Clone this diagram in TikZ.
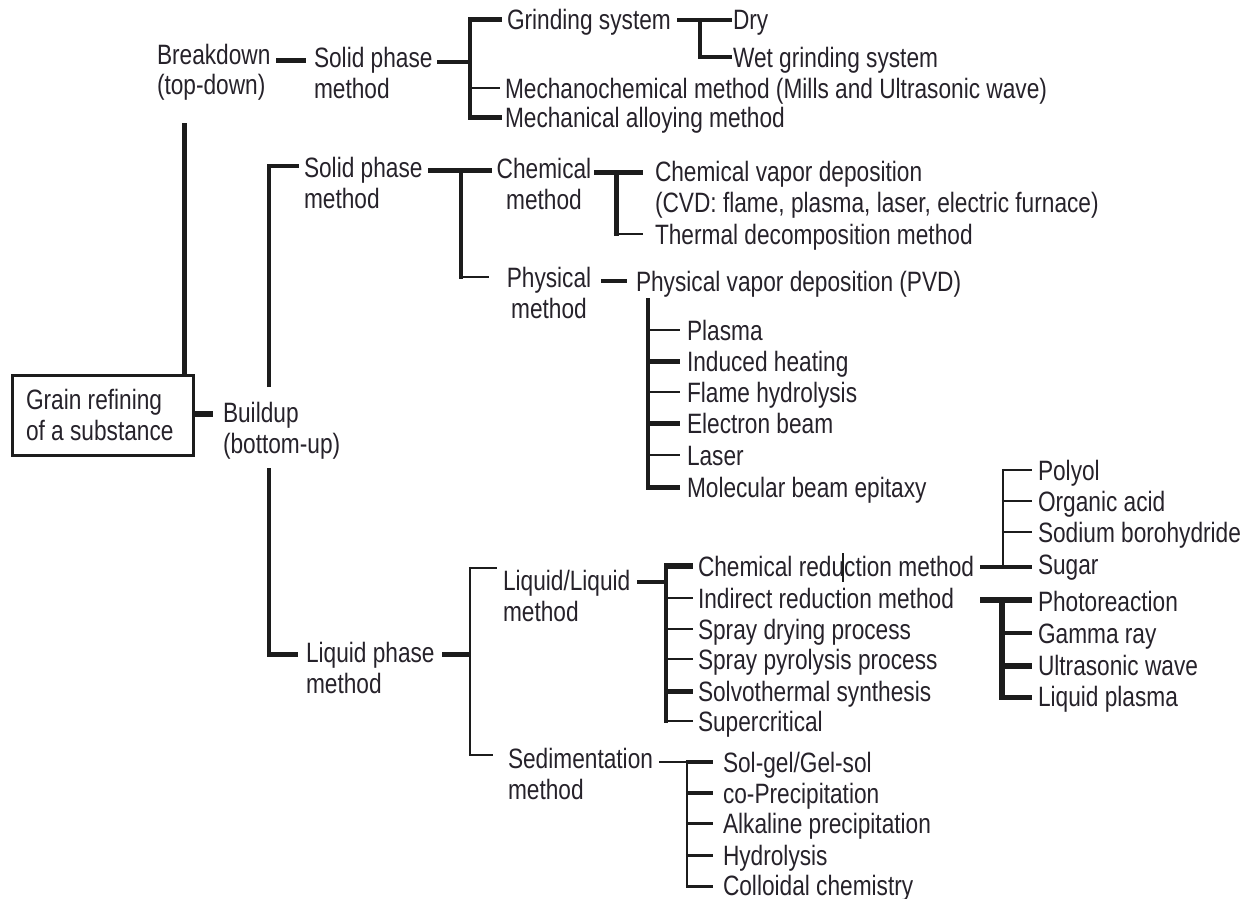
\documentclass[tikz,border=0pt]{standalone}
\usepackage{fontspec}
\setmainfont{Liberation Sans}[FakeStretch=0.81]
\definecolor{ink}{RGB}{38,34,42}
\definecolor{lin}{RGB}{28,28,28}
\newcommand{\twol}[2]{\begin{tabular}[t]{@{}l@{}}#1\\#2\end{tabular}}
\newcommand{\twoc}[2]{\begin{tabular}[t]{@{}c@{}}#1\\#2\end{tabular}}
\begin{document}
\begin{tikzpicture}[x=1pt,y=-1pt,
  every node/.style={font=\fontsize{28}{31}\selectfont, inner sep=0pt, outer sep=0pt, text=ink},
  lab/.style={anchor=base west},
  wa/.style={line width=2.5pt, draw=lin},
  wb/.style={line width=3.5pt, draw=lin},
  wc/.style={line width=5pt, draw=lin},
  wd/.style={line width=6pt, draw=lin}]
\useasboundingbox (0,0) rectangle (1253,899);

% ---------- Breakdown (top-down) ----------
\node[lab] (bd) at (157,64) {\twol{Breakdown}{(top-down)}};
\node[lab] (sp1) at (314,67) {\twol{Solid phase}{method}};
\node[lab] (gs) at (507,30) {Grinding system};
\node[lab] (dry) at (733,30) {Dry};
\node[lab] (wet) at (733,67) {Wet grinding system};
\node[lab] (mc) at (505,98) {Mechanochemical method (Mills and Ultrasonic wave)};
\node[lab] (ma) at (505,127) {Mechanical alloying method};

\draw[wc,shorten >=8pt] (276,61) -- (sp1.base west |- 0,61);
\draw[wb] (437,62) -- (470,62);
\draw[wb] (470,18) -- (470,119);
\draw[wc,shorten >=5pt] (468,20) -- (gs.base west |- 0,20);
\draw[wa,shorten >=5pt] (470,88) -- (mc.base west |- 0,88);
\draw[wc,shorten >=3pt] (468,117) -- (ma.base west |- 0,117);
\draw[wb,shorten >=1pt] (677,20) -- (dry.base west |- 0,20);
\draw[wb] (700,20) -- (700,58.5);
\draw[wb,shorten >=1pt] (698.25,57) -- (wet.base west |- 0,57);

% ---------- root ----------
\node[draw=lin, line width=3pt, minimum width=181pt, minimum height=80pt, anchor=north west] (root) at (12,375) {};
\node[lab] (gr) at (26,409) {\twol{Grain refining}{of a substance}};
\draw[wc] (184,123) -- (root.north -| 184,0);
\node[lab] (bu) at (223,422) {\twol{Buildup}{(bottom-up)}};
\draw[wd,shorten >=10pt] (root.east |- 0,414) -- (bu.base west |- 0,414);

% ---------- Buildup: solid phase ----------
\node[lab] (sp2) at (304,177) {\twol{Solid phase}{method}};
\node[lab] (lp) at (306,662) {\twol{Liquid phase}{method}};
\draw[wb] (269,387) -- (269,166);
\draw[wb,shorten >=5pt] (267.25,166) -- (sp2.base west |- 0,166);
\draw[wb] (269,468) -- (269,656.5);
\draw[wc,shorten >=8pt] (267.25,654) -- (lp.base west |- 0,654);

\node[anchor=base] (chem) at (544,178) {\twoc{Chemical}{method}};
\node[anchor=base] (phys) at (549,287) {\twoc{Physical}{method}};
\draw[wc,shorten >=5pt] (428,170) -- (chem.base west |- 0,170);
\draw[wb] (461,170) -- (461,278.5);
\draw[wa,shorten >=18pt] (459.25,277) -- (phys.base west |- 0,277);

\node[lab] (cvd) at (655,181) {\twol{Chemical vapor deposition}{(CVD: flame, plasma, laser, electric furnace)}};
\node[lab] (td) at (655,244) {Thermal decomposition method};
\draw[wc,shorten >=12pt] (594,172) -- (cvd.base west |- 0,172);
\draw[wc] (616,172) -- (616,235.5);
\draw[wa,shorten >=12pt] (613.5,234) -- (td.base west |- 0,234);

\node[lab] (pvd) at (636,291) {Physical vapor deposition (PVD)};
\draw[wb,shorten >=9pt] (601,281) -- (pvd.base west |- 0,281);
\draw[wb] (648,298) -- (648,489.5);
\node[lab] (pl) at (687,340) {Plasma};
\node[lab] (ih) at (687,371) {Induced heating};
\node[lab] (fh) at (687,402) {Flame hydrolysis};
\node[lab] (eb) at (687,433) {Electron beam};
\node[lab] (ls) at (687,465) {Laser};
\node[lab] (mb) at (687,497) {Molecular beam epitaxy};
\foreach \n/\y/\w in {pl/330/2.5, ih/361/5, fh/392/2.5, eb/423/5, ls/455/2.5, mb/487/5}
  \draw[draw=lin, line width=\w pt, shorten >=7pt] (646.25,\y) -- (\n.base west |- 0,\y);

% ---------- Buildup: liquid phase ----------
\draw[wc] (442,654) -- (470,654);
\draw[wa] (470,566.75) -- (470,756.25);
\node[lab] (ll) at (503,590) {\twol{Liquid/Liquid}{method}};
\node[lab] (sed) at (508,768) {\twol{Sedimentation}{method}};
\draw[wa,shorten >=6pt] (468.75,568) -- (ll.base west |- 0,568);
\draw[wa,shorten >=15pt] (468.75,755) -- (sed.base west |- 0,755);

\draw[wb] (637,582) -- (666,582);
\draw[wb] (666,564) -- (666,722.5);
\node[lab] (crm) at (698,576) {Chemical reduction method};
\node[lab] (ind) at (698,608) {Indirect reduction method};
\node[lab] (sdp) at (698,639) {Spray drying process};
\node[lab] (spp) at (698,669) {Spray pyrolysis process};
\node[lab] (sol) at (698,701) {Solvothermal synthesis};
\node[lab] (sup) at (698,731) {Supercritical};
\foreach \n/\y/\w in {crm/566/6, ind/598/2.5, sdp/629/2.5, spp/659/2.5, sol/691/5, sup/721/2.5}
  \draw[draw=lin, line width=\w pt, shorten >=5pt] (664.25,\y) -- (\n.base west |- 0,\y);
\draw[draw=lin, line width=1.2pt] (843,553) -- (843,582);

\draw[wa] (659,762) -- (687,762);
\draw[wa] (687,762) -- (687,888.25);
\node[lab] (sg) at (723,772) {Sol-gel/Gel-sol};
\node[lab] (cp) at (723,803) {co-Precipitation};
\node[lab] (ap) at (723,833) {Alkaline precipitation};
\node[lab] (hy) at (723,865) {Hydrolysis};
\node[lab] (cc) at (723,895) {Colloidal chemistry};
\foreach \n/\y/\w in {sg/762/3.5, cp/793/4.5, ap/823/3, hy/855/3, cc/886/3}
  \draw[draw=lin, line width=\w pt, shorten >=10pt] (685.75,\y) -- (\n.base west |- 0,\y);

% ---------- reduction sub-methods ----------
\node[lab] (po) at (1038,480) {Polyol};
\node[lab] (oa) at (1038,511) {Organic acid};
\node[lab] (sb) at (1038,542) {Sodium borohydride};
\node[lab] (su) at (1038,574) {Sugar};
\draw[wb,shorten >=6pt] (980,567) -- (su.base west |- 0,567);
\draw[wa] (1003,468.75) -- (1003,567);
\foreach \n/\y in {po/470, oa/501, sb/532}
  \draw[wa, shorten >=6pt] (1001.75,\y) -- (\n.base west |- 0,\y);

\node[lab] (ph) at (1038,611) {Photoreaction};
\node[lab] (gm) at (1038,643) {Gamma ray};
\node[lab] (uw) at (1038,675) {Ultrasonic wave};
\node[lab] (lq) at (1038,706) {Liquid plasma};
\draw[wd,shorten >=6pt] (980,600) -- (ph.base west |- 0,600);
\draw[wd] (1002,600) -- (1002,699.5);
\foreach \n/\y/\w in {gm/633/4, uw/666/6, lq/697/5}
  \draw[draw=lin, line width=\w pt, shorten >=6pt] (999,\y) -- (\n.base west |- 0,\y);
\end{tikzpicture}
\end{document}
